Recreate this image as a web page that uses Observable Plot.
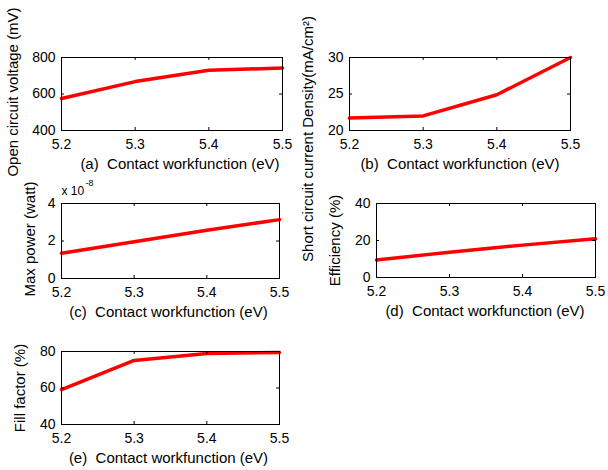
<!DOCTYPE html>
<html><head><meta charset="utf-8">
<script src="https://cdn.jsdelivr.net/npm/d3@7"></script>
<script src="https://cdn.jsdelivr.net/npm/@observablehq/plot@0.6"></script>
<style>
body{margin:0;background:#fff}
#chart{position:relative;width:608px;height:470px;overflow:hidden}
#chart svg{position:absolute;left:0;top:0;}
</style></head><body><div id="chart"></div>
<script>
// Data
const workfunction = [5.2, 5.3, 5.4, 5.5];           // eV
const openCircuitVoltage = [575, 668, 730, 742];       // mV
const shortCircuitCurrent = [21.7, 22.0, 24.9, 30.0];  // mA/cm^2
const maxPower = [1.35, 1.96, 2.57, 3.14];             // x 1e-8 watt
const efficiency = [9.4, 13.7, 17.5, 20.9];            // %
const fillFactor = [59.1, 75.1, 78.9, 79.5];           // %
const xTicks = [5.2, 5.3, 5.4, 5.5];
const xLabel = "Contact workfunction (eV)";

const panels = [
  {letter:"a", values:openCircuitVoltage, yDomain:[400,800], yTicks:[400,600,800], yLabel:"Open circuit voltage (mV)",
   box:[61,282,57,130], yLabelDx:-48, yLabelDy:-2, xLabelDx:8},
  {letter:"b", values:shortCircuitCurrent, yDomain:[20,30], yTicks:[20,25,30], yLabel:"Short circuit current Density(mA/cm\u00B2)",
   box:[349,570,57,130], yLabelDx:-41, yLabelDy:45, xLabelDx:0},
  {letter:"c", values:maxPower, yDomain:[0,4], yTicks:[0,2,4], yLabel:"Max power (watt)",
   box:[61,279,203,278], yLabelDx:-31, yLabelDy:-2, xLabelDx:-2, exponent:"-8"},
  {letter:"d", values:efficiency, yDomain:[0,40], yTicks:[0,20,40], yLabel:"Efficiency (%)",
   box:[376,595,203,277], yLabelDx:-41, yLabelDy:0, xLabelDx:-1},
  {letter:"e", values:fillFactor, yDomain:[40,80], yTicks:[40,60,80], yLabel:"Fill factor (%)",
   box:[61,279,351,424], yLabelDx:-41, yLabelDy:0, xLabelDx:-2}
];

const W = 608, H = 470;
const chart = document.getElementById("chart");

for (const p of panels) {
  const [L, R, T, B] = p.box;
  const data = workfunction.map((x, i) => ({x, y: p.values[i]}));
  const [y0, y1] = p.yDomain;
  const x0 = xTicks[0], x1 = xTicks[xTicks.length - 1];
  const ty = (y1 - y0) * 3 / (B - T);
  const tx = (x1 - x0) * 3 / (R - L);
  const marks = [
    Plot.line(data, {x: "x", y: "y", stroke: "#ff0000", strokeWidth: 3.5}),
    Plot.ruleX(xTicks, {x: d => d, y1: y0, y2: y0 + ty, stroke: "black"}),
    Plot.ruleX(xTicks, {x: d => d, y1: y1 - ty, y2: y1, stroke: "black"}),
    Plot.ruleY(p.yTicks, {y: d => d, x1: x0, x2: x0 + tx, stroke: "black"}),
    Plot.ruleY(p.yTicks, {y: d => d, x1: x1 - tx, x2: x1, stroke: "black"}),
    Plot.frame({stroke: "black"}),
    Plot.axisX({ticks: xTicks, tickSize: 0, tickPadding: 9, tickFormat: d3.format(".1f"), label: null, fontSize: 14}),
    Plot.axisY({ticks: p.yTicks, tickSize: 0, tickPadding: 6, tickFormat: d3.format("d"), label: null, fontSize: 14}),
    Plot.text([`(${p.letter})\u00A0 ${xLabel}`], {frameAnchor: "bottom", textAnchor: "middle", dy: 34, dx: p.xLabelDx, lineAnchor: "middle", fontSize: 15}),
    Plot.text([p.yLabel], {frameAnchor: "left", textAnchor: "middle", rotate: -90, dx: p.yLabelDx, dy: p.yLabelDy, lineAnchor: "middle", fontSize: 15})
  ];
  if (p.exponent) {
    marks.push(Plot.text(["x 10"], {frameAnchor: "top-left", textAnchor: "start", lineAnchor: "middle", dy: -12, fontSize: 12}));
    marks.push(Plot.text([p.exponent], {frameAnchor: "top-left", textAnchor: "start", lineAnchor: "middle", dx: 24, dy: -20, fontSize: 9}));
  }
  const svg = Plot.plot({
    width: W, height: H,
    marginLeft: L, marginRight: W - R, marginTop: T, marginBottom: H - B,
    x: {domain: [x0, x1]},
    y: {domain: p.yDomain},
    style: {background: "transparent", fontFamily: "'Liberation Sans', Arial, sans-serif", fontSize: "14px", color: "black", overflow: "visible"},
    marks
  });
  chart.appendChild(svg);
}
</script></body></html>
